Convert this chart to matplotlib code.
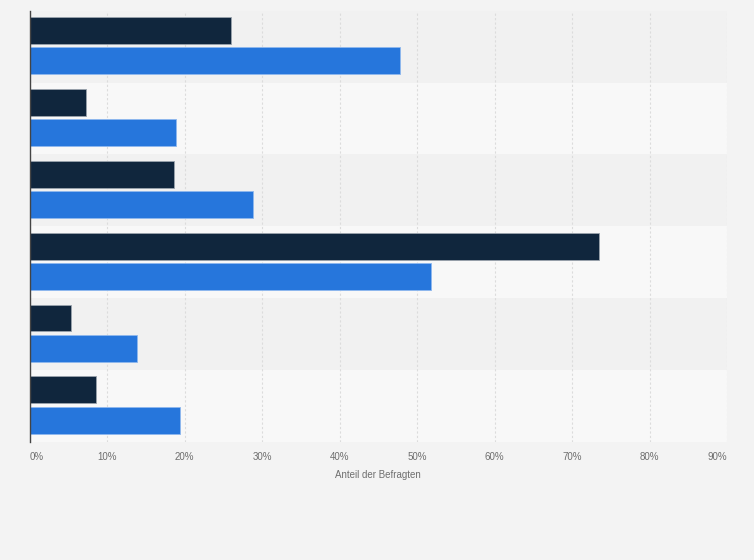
import matplotlib
matplotlib.use("Agg")
import matplotlib.pyplot as plt
import numpy as np

# values (percent)
groups = ["1", "2", "3", "4", "5", "6"]
dark_vals = [26.0, 7.3, 18.7, 73.5, 5.3, 8.6]
blue_vals = [47.8, 18.9, 28.8, 51.8, 13.9, 19.4]
ticks = [0, 10, 20, 30, 40, 50, 60, 70, 80, 90]
tick_labels = ["0%", "10%", "20%", "30%", "40%", "50%", "60%", "70%", "80%", "90%"]

plt.rcParams['font.family'] = ['Liberation Sans', 'DejaVu Sans']

fig = plt.figure(figsize=(7.54, 5.6), dpi=100)
fig.patch.set_facecolor('#f3f3f3')
ax = fig.add_axes([29.5 / 754, 1 - 442 / 560, (727 - 29.5) / 754, (442 - 10.7) / 560])
ax.set_facecolor('none')

y = np.arange(len(groups))

# alternating row bands
for i in y:
    ax.axhspan(i - 0.5, i + 0.5, color='#f1f1f1' if i % 2 == 0 else '#f8f8f8', zorder=0, lw=0)

ax.barh(y - 0.225, dark_vals, height=0.375, color='#10263d',
        edgecolor='#9aa3ad', linewidth=0.6, zorder=3)
ax.barh(y + 0.195, blue_vals, height=0.375, color='#2676dc',
        edgecolor='#8fb8ee', linewidth=0.6, zorder=3)

ax.set_xlim(0, 90)
ax.set_ylim(len(groups) - 0.5, -0.5)
ax.set_yticks([])
ax.set_xticks(ticks)
ax.set_xticklabels(tick_labels, fontsize=7, color='#6e6e6e')
labels = ax.get_xticklabels()
labels[0].set_horizontalalignment('left')
labels[-1].set_horizontalalignment('right')
ax.tick_params(axis='x', length=0, pad=7)
ax.grid(axis='x', color='#dcdcdc', linestyle=(0, (2, 2)), linewidth=0.8, zorder=1)
ax.set_axisbelow(True)

for s in ['top', 'right', 'bottom']:
    ax.spines[s].set_visible(False)
ax.spines['left'].set_color('#444444')
ax.spines['left'].set_linewidth(1)
ax.spines['left'].set_zorder(4)

ax.set_xlabel('Anteil der Befragten', fontsize=7, color='#6e6e6e', labelpad=6)

fig.savefig('out.png', dpi=100, facecolor=fig.get_facecolor())
